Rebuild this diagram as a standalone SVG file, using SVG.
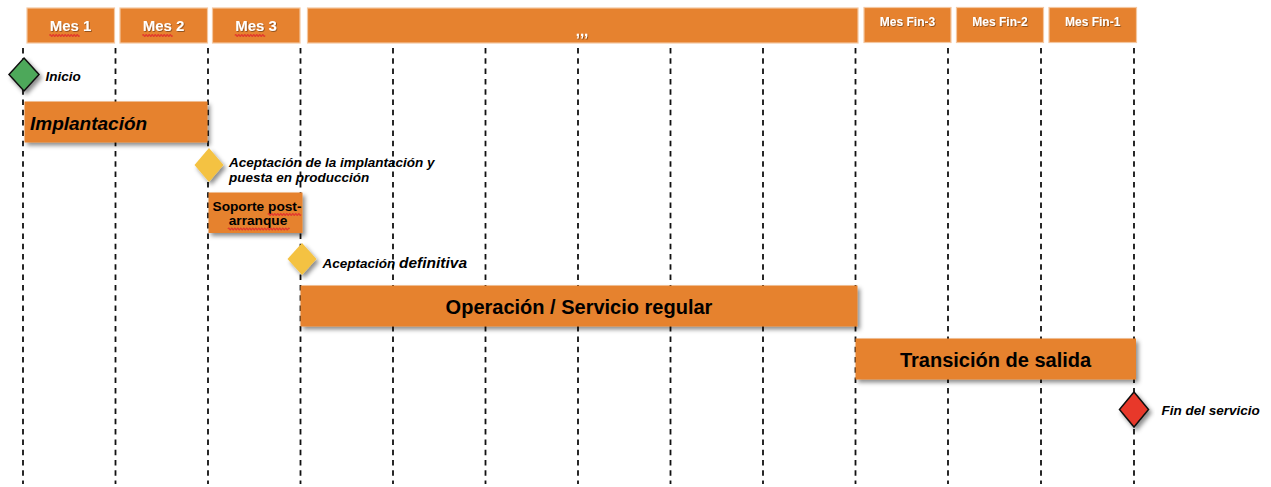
<svg xmlns="http://www.w3.org/2000/svg" width="1271" height="487" viewBox="0 0 1271 487">
<defs>
<filter id="sh" x="-10%" y="-20%" width="130%" height="160%">
<feDropShadow dx="2.5" dy="3" stdDeviation="2" flood-color="#000" flood-opacity="0.45"/>
</filter>
<filter id="tsh" x="-10%" y="-20%" width="130%" height="160%">
<feDropShadow dx="0.8" dy="0.8" stdDeviation="0.5" flood-color="#000" flood-opacity="0.45"/>
</filter>
<path id="wave30" d="M0,0 q0.75,-1.8 1.5,0 t1.5,0 t1.5,0 t1.5,0 t1.5,0 t1.5,0 t1.5,0 t1.5,0 t1.5,0 t1.5,0 t1.5,0 t1.5,0 t1.5,0 t1.5,0 t1.5,0 t1.5,0 t1.5,0 t1.5,0 t1.5,0 t1.5,0"/>
</defs>
<style>
.hdr{fill:#E6822F;stroke:#F4C7A0;stroke-width:1.2}
.htx{font-family:"Liberation Sans",Arial,sans-serif;font-weight:bold;fill:#fff;text-anchor:middle}
.grid line{stroke:#111;stroke-width:1.8;stroke-dasharray:5.5 4.8}
.bar{fill:#E6822F}
.btx{font-family:"Liberation Sans",Arial,sans-serif;font-weight:bold;fill:#000;text-anchor:middle}
.lbl{font-family:"Liberation Sans",Arial,sans-serif;font-weight:bold;font-style:italic;fill:#000}
.wave{fill:none;stroke:#E23A2E;stroke-width:1.3}
</style>
<rect width="1271" height="487" fill="#fff"/>

<g id="grid" class="grid">
<line x1="23" y1="48" x2="23" y2="484"/>
<line x1="115.5" y1="48" x2="115.5" y2="484"/>
<line x1="208" y1="48" x2="208" y2="484"/>
<line x1="300.5" y1="48" x2="300.5" y2="484"/>
<line x1="393" y1="48" x2="393" y2="484"/>
<line x1="485.5" y1="48" x2="485.5" y2="484"/>
<line x1="578" y1="48" x2="578" y2="484"/>
<line x1="670.5" y1="48" x2="670.5" y2="484"/>
<line x1="763" y1="48" x2="763" y2="484"/>
<line x1="855.5" y1="48" x2="855.5" y2="484"/>
<line x1="948" y1="48" x2="948" y2="484"/>
<line x1="1041" y1="48" x2="1041" y2="484"/>
<line x1="1134" y1="48" x2="1134" y2="484"/>
</g>

<g id="header-mes1">
<rect class="hdr" x="27" y="8" width="87.5" height="35"/>
<text class="htx" x="70.5" y="31" font-size="15" filter="url(#tsh)">Mes 1</text>
<use href="#wave30" class="wave" transform="translate(49.5,35.5)"/>
</g>
<g id="header-mes2">
<rect class="hdr" x="120" y="8" width="87.5" height="35"/>
<text class="htx" x="163.5" y="31" font-size="15" filter="url(#tsh)">Mes 2</text>
<use href="#wave30" class="wave" transform="translate(142.5,35.5)"/>
</g>
<g id="header-mes3">
<rect class="hdr" x="212.5" y="8" width="87.5" height="35"/>
<text class="htx" x="256" y="31" font-size="15" filter="url(#tsh)">Mes 3</text>
<use href="#wave30" class="wave" transform="translate(235,35.5)"/>
</g>
<g id="header-middle">
<rect class="hdr" x="307.5" y="8" width="550.5" height="35"/>
<text class="htx" x="582" y="36" font-size="15" filter="url(#tsh)">,,,</text>
</g>
<g id="header-fin3">
<rect class="hdr" x="864" y="7.5" width="87" height="35"/>
<text class="htx" x="907.5" y="26" font-size="12" filter="url(#tsh)">Mes Fin-3</text>
</g>
<g id="header-fin2">
<rect class="hdr" x="956.5" y="7.5" width="87" height="35"/>
<text class="htx" x="1000" y="26" font-size="12" filter="url(#tsh)">Mes Fin-2</text>
</g>
<g id="header-fin1">
<rect class="hdr" x="1049" y="7.5" width="87.5" height="35"/>
<text class="htx" x="1092.7" y="26" font-size="12" filter="url(#tsh)">Mes Fin-1</text>
</g>

<g id="milestone-inicio">
<polygon points="24,58 39,74.5 24,91 9,74.5" fill="#4EA85A" stroke="#111" stroke-width="1.5" filter="url(#sh)"/>
<text class="lbl" x="45.5" y="81" font-size="13.5">Inicio</text>
</g>

<g id="bar-implantacion">
<rect class="bar" x="24.5" y="101.5" width="183" height="41" filter="url(#sh)"/>
<text class="lbl" x="30" y="129.5" font-size="19">Implantación</text>
</g>

<g id="milestone-aceptacion-implantacion">
<polygon points="209,148 223.5,165 209,182 194.5,165" fill="#F4C242" filter="url(#sh)"/>
<text class="lbl" x="229" y="167" font-size="13.5">Aceptación de la implantación y</text>
<text class="lbl" x="229" y="182" font-size="13.5">puesta en producción</text>
</g>

<g id="bar-soporte">
<rect class="bar" x="208.5" y="192.5" width="94" height="40.5" filter="url(#sh)"/>
<text class="btx" x="257" y="210.5" font-size="13.7">Soporte post-</text>
<text class="btx" x="258" y="225" font-size="13.7">arranque</text>
<path class="wave" d="M268,214.5 q0.75,-1.8 1.5,0 t1.5,0 t1.5,0 t1.5,0 t1.5,0 t1.5,0 t1.5,0 t1.5,0 t1.5,0 t1.5,0 t1.5,0 t1.5,0 t1.5,0 t1.5,0 t1.5,0 t1.5,0 t1.5,0 t1.5,0 t1.5,0 t1.5,0 t1.5,0 t1.5,0"/>
<path class="wave" d="M228,229 q0.75,-1.8 1.5,0 t1.5,0 t1.5,0 t1.5,0 t1.5,0 t1.5,0 t1.5,0 t1.5,0 t1.5,0 t1.5,0 t1.5,0 t1.5,0 t1.5,0 t1.5,0 t1.5,0 t1.5,0 t1.5,0 t1.5,0 t1.5,0 t1.5,0 t1.5,0 t1.5,0 t1.5,0 t1.5,0 t1.5,0 t1.5,0 t1.5,0 t1.5,0 t1.5,0 t1.5,0 t1.5,0 t1.5,0 t1.5,0 t1.5,0 t1.5,0 t1.5,0 t1.5,0 t1.5,0 t1.5,0 t1.5,0 t1.5,0"/>
</g>

<g id="milestone-aceptacion-definitiva">
<polygon points="302,243 316.5,259 302,275 287.5,259" fill="#F4C242" filter="url(#sh)"/>
<text class="lbl" x="322.5" y="267.5" font-size="13.5">Aceptación <tspan font-size="15.5">definitiva</tspan></text>
</g>

<g id="bar-operacion">
<rect class="bar" x="300.5" y="285.5" width="557" height="41" filter="url(#sh)"/>
<text class="btx" x="579" y="314" font-size="20">Operación / Servicio regular</text>
</g>

<g id="bar-transicion">
<rect class="bar" x="855.5" y="338.5" width="280.5" height="41" filter="url(#sh)"/>
<text class="btx" x="995.5" y="366.5" font-size="20">Transición de salida</text>
</g>

<g id="milestone-fin">
<polygon points="1134,392 1148.5,409.5 1134,427 1119.5,409.5" fill="#E8392A" stroke="#111" stroke-width="1.5" filter="url(#sh)"/>
<text class="lbl" x="1161.5" y="414.5" font-size="13.5">Fin del servicio</text>
</g>
</svg>
